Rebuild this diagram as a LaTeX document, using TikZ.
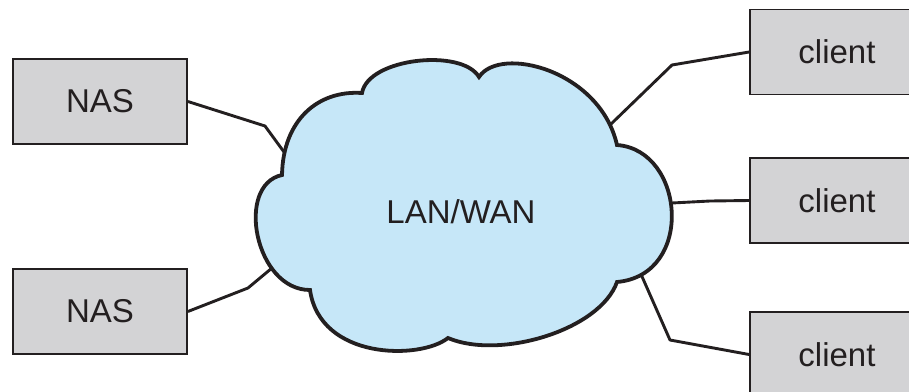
\documentclass[tikz,border=0pt]{standalone}
\usepackage{fontspec}
\setmainfont{Liberation Sans}
\definecolor{boxgray}{HTML}{D3D3D5}
\definecolor{cloudblue}{HTML}{C6E7F8}
\definecolor{ink}{HTML}{231F20}
\begin{document}
\begin{tikzpicture}[x=1pt,y=-1pt,
  devbox/.style={draw=ink, line width=1.8pt, fill=boxgray, minimum width=174pt, minimum height=85pt, inner sep=0pt, text=ink, font=\fontsize{33}{38}\selectfont},
  wire/.style={draw=ink, line width=2.9pt, line join=round},
  cloudline/.style={draw=ink, line width=3.8pt, fill=cloudblue, line join=miter}]
\useasboundingbox (0,0) rectangle (909,391);
\clip (0,0) rectangle (909,391);
\fill[white] (0,0) rectangle (909,391);
% boxes
\node[devbox] (nas1) at (100,101.5) {NAS};
\node[devbox] (nas2) at (100,311.5) {NAS};
\node[devbox] (cl1) at (837,52) {client};
\node[devbox] (cl2) at (837,200.5) {client};
\node[devbox] (cl3) at (837,354.5) {client};
% bends and cloud attach points
\coordinate (b1) at (265,126);
\coordinate (a1) at (284,152);
\coordinate (b2) at (248,288);
\coordinate (a2) at (272,268);
\coordinate (b3) at (672,65);
\coordinate (a3) at (610,125);
\coordinate (b4) at (710,201);
\coordinate (a4) at (672,203);
\coordinate (b5) at (670,340);
\coordinate (a5) at (640,272);
\draw[wire] (nas1.east) -- (b1) -- (a1);
\draw[wire] (nas2.east) -- (b2) -- (a2);
\draw[wire] (cl1.west) -- (b3) -- (a3);
\draw[wire] (cl2.west) -- (b4) -- (a4);
\draw[wire] (cl3.west) -- (b5) -- (a5);
% cloud
\draw[cloudline]
  (282,175) .. controls (283,120) and (318,90) .. (362,93)
  .. controls (368,58) and (462,48) .. (479,77)
  .. controls (500,45) and (600,70) .. (617,145)
  .. controls (685,150) and (695,275) .. (617,282)
  .. controls (600,330) and (500,360) .. (448,338)
  .. controls (420,360) and (320,360) .. (310,290)
  .. controls (255,290) and (235,185) .. (282,175) -- cycle;
\node[text=ink, font=\fontsize{33}{38}\selectfont, inner sep=0pt] (lan) at (461,212) {LAN/WAN};
\end{tikzpicture}
\end{document}
